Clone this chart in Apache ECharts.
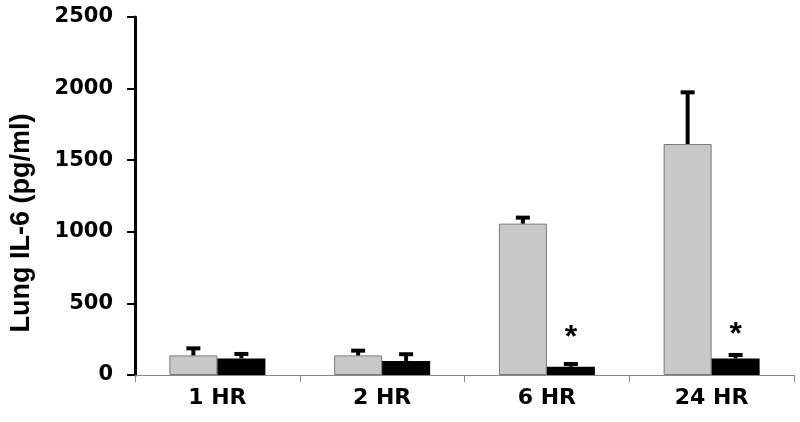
<!DOCTYPE html>
<html>
<head>
<meta charset="utf-8">
<script src="https://cdn.jsdelivr.net/npm/echarts@6/dist/echarts.min.js"></script>
<style>
  html, body { margin: 0; padding: 0; background: #fff; }
  #main { width: 800px; height: 422px; }
</style>
</head>
<body>
<div id="main"></div>
<script>
  var categories = ['1 HR', '2 HR', '6 HR', '24 HR'];
  var grayVals = [137, 137, 1057, 1613];
  var grayErr = [49, 33, 42, 361];
  var blackVals = [116, 98, 58, 116];
  var blackErr = [31, 47, 19, 24];
  var starAt = [null, null, 255, 279];

  var myChart = echarts.init(document.getElementById('main'));
  var BAR_W = 48;

  function errItem(vals, errs, side) {
    return function (params, api) {
      var i = api.value(0);
      var base = api.coord([i, vals[i]]);
      var top = api.coord([i, vals[i] + errs[i]]);
      var x = base[0] + side * BAR_W / 2;
      var st = { stroke: '#000', lineWidth: 4 };
      return {
        type: 'group',
        children: [
          { type: 'line', shape: { x1: x, y1: base[1], x2: x, y2: top[1] }, style: st },
          { type: 'line', shape: { x1: x - 7, y1: top[1], x2: x + 7, y2: top[1] }, style: st }
        ]
      };
    };
  }

  var idx = categories.map(function (c, i) { return [i]; });
  var stars = [];
  starAt.forEach(function (v, i) { if (v != null) stars.push([i, v]); });

  var option = {
    animation: false,
    grid: { left: 133, right: 6, top: 17, bottom: 47 },
    xAxis: {
      type: 'category',
      data: categories,
      axisLine: { lineStyle: { color: '#8a8a8a', width: 1 } },
      axisTick: { show: true, length: 7, lineStyle: { color: '#8a8a8a' } },
      axisLabel: { color: '#000', fontFamily: 'DejaVu Sans', fontWeight: 'bold', fontSize: 22, margin: 12 }
    },
    yAxis: {
      type: 'value',
      min: 0, max: 2500, interval: 500,
      name: 'Lung IL-6 (pg/ml)',
      nameLocation: 'middle',
      nameGap: 100,
      nameTextStyle: { color: '#000', fontFamily: 'Liberation Sans, Arial', fontWeight: 'bold', fontSize: 27, padding: [0, 54, 0, 0] },
      axisLine: { show: true, lineStyle: { color: '#000', width: 3 } },
      axisTick: { show: true, length: 8, lineStyle: { color: '#000', width: 2 } },
      axisLabel: {
        color: '#000', fontFamily: 'DejaVu Sans', fontWeight: 'bold', fontSize: 21, margin: 22,
        formatter: function (v) { return String(v); }
      },
      splitLine: { show: false }
    },
    series: [
      {
        type: 'bar', data: grayVals, barWidth: BAR_W, barGap: '0%',
        itemStyle: { color: '#c8c8c8', borderColor: '#7a7a7a', borderWidth: 1 }
      },
      {
        type: 'bar', data: blackVals, barWidth: BAR_W, barGap: '0%',
        itemStyle: { color: '#000' }
      },
      { type: 'custom', data: idx, renderItem: errItem(grayVals, grayErr, -1), z: 5 },
      { type: 'custom', data: idx, renderItem: errItem(blackVals, blackErr, 1), z: 5 },
      {
        type: 'custom', data: stars, z: 6,
        renderItem: function (params, api) {
          var p = api.coord([api.value(0), api.value(1)]);
          return {
            type: 'text',
            style: {
              x: p[0] + BAR_W / 2, y: p[1], text: '*',
              fill: '#000', font: 'bold 32px Liberation Sans, Arial',
              align: 'center', verticalAlign: 'middle'
            }
          };
        }
      }
    ]
  };
  myChart.setOption(option);
</script>
</body>
</html>
